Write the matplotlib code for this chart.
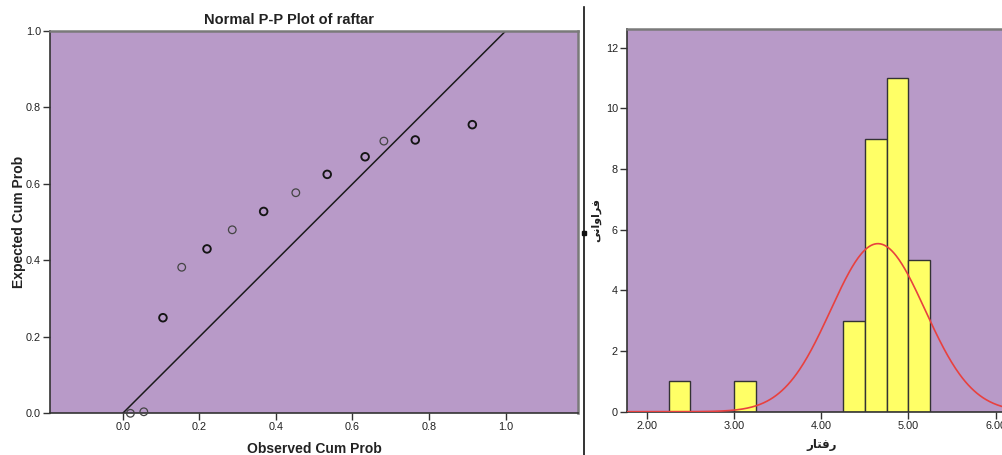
import matplotlib
matplotlib.use("Agg")
import matplotlib.pyplot as plt
import numpy as np
from matplotlib.lines import Line2D

# ---------------- data ----------------
# P-P plot
observed_cum_prob = [0.02, 0.055, 0.105, 0.154, 0.220, 0.286, 0.368, 0.452, 0.534, 0.633, 0.682, 0.764, 0.913]
expected_cum_prob = [0.000, 0.004, 0.250, 0.382, 0.430, 0.480, 0.528, 0.577, 0.625, 0.671, 0.712, 0.715, 0.755]
point_ties = [1, 1, 2, 1, 2, 1, 2, 1, 2, 2, 1, 2, 2]
pp_xticks = [0.0, 0.2, 0.4, 0.6, 0.8, 1.0]
pp_yticks = [0.0, 0.2, 0.4, 0.6, 0.8, 1.0]

# histogram
bin_lefts = [2.25, 3.00, 4.25, 4.50, 4.75, 5.00]
bin_counts = [1, 1, 3, 9, 11, 5]
bin_width = 0.25
fit_mean = 4.65
fit_sd = 0.54
n_total = 30
hist_xticks = [2.0, 3.0, 4.0, 5.0, 6.0]
hist_xticklabels = ["2.00", "3.00", "4.00", "5.00", "6.00"]
hist_yticks = [0, 2, 4, 6, 8, 10, 12]

pp_title = "Normal P-P Plot of raftar"
pp_xlabel = "Observed Cum Prob"
pp_ylabel = "Expected Cum Prob"
# Persian labels (presentation forms, visual order, for correct shaping)
hist_xlabel = "\uFEAD\uFE8E\uFE98\uFED3\uFEAD"          # رفتار
hist_ylabel = "\uFEF0\uFEE7\uFE8D\uFEED\uFE8D\uFEAE\uFED3"  # فراوانی

# ---------------- style ----------------
W, H = 1003, 455
purple = "#B89AC8"
yellow = "#FFFF66"
red = "#E8413F"
txt = "#222222"
plt.rcParams['font.family'] = ['Liberation Sans', 'DejaVu Sans']

fig = plt.figure(figsize=(W / 100, H / 100), dpi=100)
fig.patch.set_facecolor("white")


def px_axes(l, t, r, b):
    return fig.add_axes([l / W, 1 - b / H, (r - l) / W, (b - t) / H])


def style_axes(ax):
    ax.set_facecolor(purple)
    for s in ("left", "bottom"):
        ax.spines[s].set_color("#333333")
        ax.spines[s].set_linewidth(1.2)
    for s in ("top", "right"):
        ax.spines[s].set_color("#7a7a7a")
        ax.spines[s].set_linewidth(1.8)
    ax.tick_params(direction="out", length=5, width=1, color="#333333",
                   labelsize=7.8, labelcolor=txt, pad=1.5)


# ---------------- left: P-P plot ----------------
ax1 = px_axes(50, 31, 578, 413.3)
style_axes(ax1)
ax1.set_xlim(-0.19, 1.189)
ax1.set_ylim(0.0, 1.0)
ax1.plot([0, 1], [0, 1], color="#1a1a1a", lw=1.1, zorder=2)
edge_cols = ["#151515" if t > 1 else "#444444" for t in point_ties]
edge_lw = [1.35 if t > 1 else 0.9 for t in point_ties]
ax1.scatter(observed_cum_prob, expected_cum_prob, s=30, facecolors="none",
            edgecolors=edge_cols, linewidths=edge_lw, zorder=3, clip_on=False)
ax1.set_xticks(pp_xticks)
ax1.set_xticklabels([f"{v:.1f}" for v in pp_xticks])
ax1.set_yticks(pp_yticks)
ax1.set_yticklabels([f"{v:.1f}" for v in pp_yticks])
ax1.set_title(pp_title, fontsize=10.5, fontweight="bold", color=txt, pad=5,
              x=(289 - 50) / (578 - 50))
ax1.set_xlabel(pp_xlabel, fontsize=10, fontweight="bold", color=txt, labelpad=7)
ax1.set_ylabel(pp_ylabel, fontsize=10, fontweight="bold", color=txt, labelpad=0)

# ---------------- right: histogram ----------------
ax2 = px_axes(627, 29, 1016, 411.7)
style_axes(ax2)
x_left = 2.0 - (646.7 - 627) / 87.3
x_right = 6.0 + (1016 - 995.7) / 87.3
ax2.set_xlim(x_left, x_right)
ax2.set_ylim(0, (411.7 - 29) / 30.33)
ax2.bar(bin_lefts, bin_counts, width=bin_width, align="edge", color=yellow,
        edgecolor="#333333", linewidth=1.0, zorder=2)
xs = np.linspace(x_left, x_right, 400)
curve = n_total * bin_width / (fit_sd * np.sqrt(2 * np.pi)) * np.exp(-0.5 * ((xs - fit_mean) / fit_sd) ** 2)
ax2.plot(xs, curve, color=red, lw=1.2, zorder=3)
ax2.set_xticks(hist_xticks)
ax2.set_xticklabels(hist_xticklabels)
ax2.set_yticks(hist_yticks)
ax2.set_xlabel(hist_xlabel, fontsize=8.5, fontweight="bold", color=txt,
               family=["DejaVu Sans"], labelpad=5)
ax2.set_ylabel(hist_ylabel, fontsize=8, fontweight="bold", color=txt,
               family=["DejaVu Sans"], labelpad=3)

# ---------------- divider ----------------
fig.add_artist(Line2D([584.3 / W, 584.3 / W], [0, 1 - 7 / H], color="#111111", lw=1.2))
fig.add_artist(Line2D([584.3 / W], [1 - 233 / H], marker="s", markersize=3.5,
                      color="#111111", lw=0))

fig.savefig("out.png", dpi=100)
